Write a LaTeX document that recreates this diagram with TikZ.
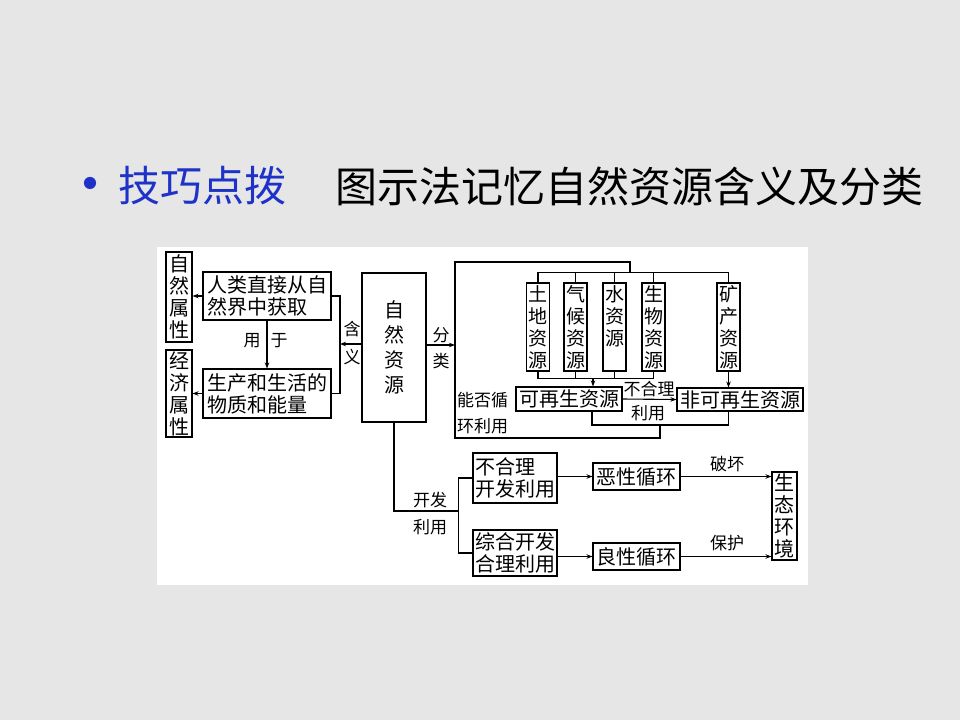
\documentclass[tikz,border=0pt]{standalone}
\usepackage{fontspec}
\setmainfont{Noto Sans CJK SC}
\usetikzlibrary{arrows.meta}
\definecolor{bgc}{RGB}{230,230,230}
\definecolor{ttblue}{RGB}{30,50,200}
\begin{document}
\begin{tikzpicture}[x=1pt,y=-1pt,
  box/.style={draw, line width=1.1pt, inner sep=0pt, font=\fontsize{20}{22}\selectfont, align=left},
  vbox/.style={box, align=center},
  rb/.style={vbox, minimum width=23pt, minimum height=88pt, font=\fontsize{19}{22}\selectfont},
  lbl/.style={inner sep=0pt, font=\fontsize{17}{19}\selectfont},
  ln/.style={line width=1.1pt},
  arr/.style={-{Stealth[length=6pt,width=4.5pt]}}]
\useasboundingbox (0,0) rectangle (960,720);
\fill[bgc] (0,0) rectangle (960,720);
\fill[white] (157,247) rectangle (808,585);
% title
\node[inner sep=0pt, text=ttblue, font=\fontsize{58}{58}\selectfont] (bul) at (90,191) {•};
\node[anchor=west, inner sep=0pt, text=ttblue, font=\fontsize{42}{42}\selectfont] (t1) at (118,186) {技巧点拨};
\node[anchor=west, inner sep=0pt, font=\fontsize{42}{42}\selectfont] (t2) at (335,186) {图示法记忆自然资源含义及分类};
% left part
\node[vbox, minimum width=26pt, minimum height=90pt] (zr) at (179,297) {自\\然\\属\\性};
\node[vbox, minimum width=26pt, minimum height=87pt] (jj) at (179,393.5) {经\\济\\属\\性};
\node[box, minimum width=128pt, minimum height=48pt] (ren) at (267,296) {人类直接从自\\然界中获取};
\node[box, minimum width=128pt, minimum height=49pt] (sc) at (267,393.5) {生产和生活的\\物质和能量};
\node[vbox, minimum width=64pt, minimum height=149pt, font=\fontsize{20}{25}\selectfont] (zy) at (394,347.5) {自\\然\\资\\源};
% resource boxes
\node[rb] (td) at (538,327) {土\\地\\资\\源};
\node[rb] (qh) at (575.5,327) {气\\候\\资\\源};
\node[rb] (sz) at (614.5,327) {水\\资\\源\\\phantom{源}};
\node[rb] (sw) at (653.5,327) {生\\物\\资\\源};
\node[rb] (kc) at (728.5,327) {矿\\产\\资\\源};
\node[box, minimum width=106pt, minimum height=24pt] (kz) at (569,399) {可再生资源};
\node[box, minimum width=126pt, minimum height=23pt] (fk) at (740,399.5) {非可再生资源};
% bottom part
\node[box, minimum width=84pt, minimum height=50pt] (bh) at (515,478) {不合理\\开发利用};
\node[box, minimum width=84pt, minimum height=46pt] (zh) at (515,553) {综合开发\\合理利用};
\node[box, minimum width=87pt, minimum height=27pt] (ex) at (636.5,476.5) {恶性循环};
\node[box, minimum width=87pt, minimum height=27pt] (lx) at (636.5,556.5) {良性循环};
\node[vbox, minimum width=25pt, minimum height=88pt] (st) at (784.5,516) {生\\态\\环\\境};
% labels
\node[lbl] (yong) at (252,341) {用};
\node[lbl] (yu) at (279,341) {于};
\node[lbl] (han) at (352,329) {含};
\node[lbl] (yi) at (352,357) {义};
\node[lbl] (fen) at (441,335) {分};
\node[lbl] (lei) at (441,361) {类};
\node[lbl] (bhl) at (649,389) {不合理};
\node[lbl] (lyl) at (648,413) {利用};
\node[lbl, anchor=west] (nf1) at (457,400) {能否循};
\node[lbl, anchor=west] (nf2) at (457,426) {环利用};
\node[lbl] (kf1) at (430,500) {开发};
\node[lbl] (kf2) at (430,527) {利用};
\node[lbl] (ph) at (727,464) {破坏};
\node[lbl] (bf) at (727,543) {保护};
% coordinates
\coordinate (hb) at (340,344);
\coordinate (fb) at (455,345);
\coordinate (dist) at (630,273);
\coordinate (tl) at (455,262);
\coordinate (bl) at (455,438);
\coordinate (bm2) at (660,425);
\coordinate (ra) at (593,378);
\path (kz.south) ++(23,0) coordinate (kzb);
\coordinate (kf) at (459,511);
% connectors left
\draw[ln,arr] (ren.west) -- (zr.east |- ren.west);
\draw[ln,arr] (sc.west) -- (jj.east |- sc.west);
\draw[ln,arr] (ren.south) -- (sc.north);
\draw[ln] (ren.east) -| (hb) |- (sc.east);
\draw[ln,arr] (zy.west |- hb) -- (hb);
\draw[ln,arr] (zy.east |- fb) -- (fb);
% big bracket
\draw[ln] (dist) |- (tl) -- (bl) -| (bm2);
\draw[ln] (td.north) -- ++(0,-10) -| (kc.north);
\foreach \n in {qh,sz,sw} \draw[ln] (\n.north) -- ++(0,-10);
\draw[ln] (td.south) -- ++(0,7) -| (sw.south);
\foreach \n in {qh,sz} \draw[ln] (\n.south) -- ++(0,7);
\draw[ln,arr] (ra) -- (ra |- kz.north);
\draw[ln,arr] (kc.south) -- (kc.south |- fk.north);
\draw[ln,arr] (kz.east) -- (fk.west);
\draw[ln] (kzb) |- (bm2) -| (fk.south -| kc.south);
% bottom connectors
\draw[ln] (zy.south) |- (kf);
\draw[ln] (bh.west) -- ++(-14,0) |- (zh.west);
\draw[ln,arr] (bh.east |- ex.west) -- (ex.west);
\draw[ln,arr] (zh.east |- lx.west) -- (lx.west);
\draw[ln,arr] (ex.east) -- (ex.east -| st.west);
\draw[ln,arr] (lx.east) -- (lx.east -| st.west);
\end{tikzpicture}
\end{document}
